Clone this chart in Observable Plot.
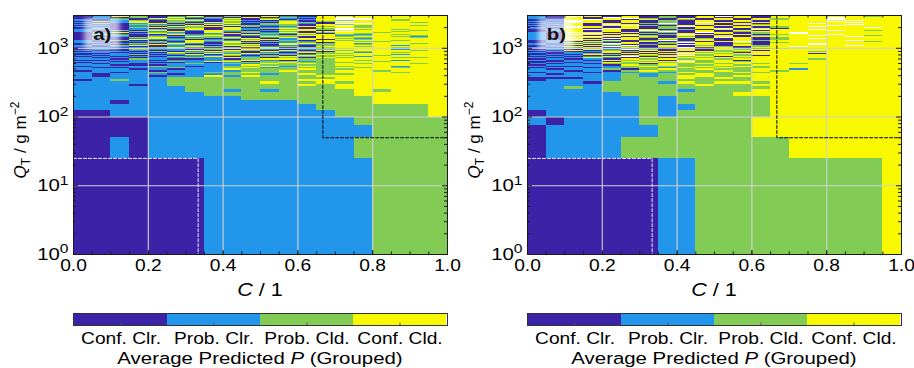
<!DOCTYPE html>
<html><head><meta charset="utf-8">
<script src="https://cdn.jsdelivr.net/npm/d3@7"></script>
<script src="https://cdn.jsdelivr.net/npm/@observablehq/plot@0.6"></script>
<style>
body{margin:0;background:#fff;}
#fig{position:relative;width:914px;height:368px;overflow:hidden;}
#fig>svg{position:absolute;}
</style></head><body><div id="fig"></div>
<script>
// ---------- data ----------
const categories = ["Conf. Clr.", "Prob. Clr.", "Prob. Cld.", "Conf. Cld."];
const categoryColors = ["#3c22a7", "#2196ea", "#82cc56", "#f8f800"];
const cBinWidth = 0.05;      // cloud-fraction bin width
const qBinWidth = 25;        // Q_T bin width, g m^-2
const qMin = 1, qMax = 3000;
const xTicks = [0, 0.2, 0.4, 0.6, 0.8, 1.0];
const yTicks = [1, 10, 100, 1000];
const clearBox = {c: 1/3, q: 25};
const cloudBox = {c: 2/3, q: 50};
// each string = one Q_T bin (from bottom), one char per C bin: 0..3 = category index, "." = no data
const panelARows = [
"00000001111111112222","00101111111111122222","00001111111111112222","00001111111111122222",
"00111111111111222223","11111111111112222223","11011111111122223333","11111111122222223333",
"11111112222222233333","11111122121222232333","11111122222222333333","11101222222232333333",
"11111222223223233333","01211222222233333333","11111222222222333333","10110113132223333333",
"10111011221232233333","11012112232222333233","01110111122322332333","11101011322232233333",
"10011211231222323233","01112101223132233133","11000111132222333333","10101121213232323323",
"01110010122322233333","11011213302212332333","00110111231022323133","11021001023322333333",
"10101121320203233223","01010213012322313333","10101011202032232333","01120130310213333133",
"10011012023202332323","00101203132102233333","11010321201032313233","01102013203120323333",
"10010130320303233323","01021102031012333133","00101231012302323333","10130201303121233233",
"01012310203022333233","10100132031203323333","02101203102133233323","10230120320102333133",
"01013201230312323333","10101032013203233233","00120310201332313323","11002130320120333333",
"01210203013203233233","10012031302113322333","01101320203032333313","10200132130203233233",
"01031201023130323333","10120302301202333323","02013120230133213333","10100230123022333233",
"01023012301303323323","10310201032120333333","00102132103203233213","11020310230130323333",
"01201023012233123323","10013201320302333333","02100312031023213233","10231030123203333323",
"01013201302130323333","10120032103203.33233","01302103021302332333","10010231230013233323",
"02103012301320323333","10021303120203.33233","01130201032102323333","10203013201330333323",
"00120321023103233333","11012030310232.23233","01230102103203323333","10102313020130333323",
"02010230312302.33333","10301201023013233233","01023120301203323333","10120301230230.33323",
"01302012103103233333","10010323020132323333","02103100231203..3233","10230213010322333333",
"01012030321203.23323","11201302103032333333","00130210230310..3233","10021203102203233333",
"01302130320130.33323","10120302013202333333","02013021302310..3333","10300213020132323233",
"01021302103203.33333","10130203210320333323","01203012302103..3333","10012301032330333233",
"02130210201302.33333","10201032130203333323","01032103023110..3333","10120230310203233233",
"01301203021303.33333","10023012302120..3323","02130201031302333333","10201320203013..3233",
"01012031320201.33333","10320103021332333323","01103201302103..3333","10021310230320.33233",
"02130023102103333333","10302130210230..3323","01020312030213.33333","10130201302302333233",
"02301023012103..3333","10012301320230.33323","01320130203103333333","10103201032302..3233",
"02010321301230.33333","10230102030123333323","01302031200130.33333","10120302103201233333"
];
const panelBRows = [
"00000001122222222223","01111222222222333333","01111112222233333333","10111122222233333333",
"01111121222223333333","11111121122223333333","11111121222223333333","11111121222223333333",
"11111222222333333333","11112222122233333333","11212222222223333333","11112222232233333333",
"11102221323323333333","01111222222233333333","00011222323233333333","11111212332333333333",
"10111212232233333333","01101121322323333333","11010232223232333333","10112023232233133333",
"01101221323223333333","10011232232323333333","01110323223233333333","10102203232323233333",
"01013232323333333333","00110323.23233333333","10103230323033333333","01010323232333323333",
"10131030323233333333","01013.03230333333333","10100323.23203333333","01032030323233333333",
"10103230302333333333","00120303.32333303333","10103030323033333333","01013203032233323333",
"10302030302303333333","01031.20303233333333","10103032.30323333333","00313020303202333333",
"10130302.03033333333","0130.203032023.33333","10213030303.02333233","01031.03020323333.33",
"10303020.303033.3333","0013020303.203333323","1013.3020302033.3333","01310302.30302333333",
"1023030.3030230.3333","01031030203.03333323","1013.2030302033.3333","0130302.030323333.33",
"10.30302030302333333","013030.20303033.3323","1030.3030203023.3333","0130302.03030333.333",
"10.3032030.302333333","01303020.3023033.323","103.3030203033333.33","0130.302030.20333333",
"10303.203030233.3323","013030.3020303333.33","10.30302.3030233.333","0130302030.303333323",
"103.3020303023.33333","01303.20303033333.33","10.303020.3023.33333","0130302.030303333323",
"1030.30203030.333.33","0130302.030233333333","10.30302030.3033.333","013030.203030333.323",
"1030.302030203333333","013.30302030.33.3333","10303020.30303333.33","01.30302030323.33323",
"1030.30203.030333333","0130302.0303033.3333","10.303020303023333.3","0130.3020303033.3323",
"103030.20303033333.3","01.30302.303023.3333","1030302030.303333333","013.30203030233.3.33",
"10303.2030303333.333","0130302.0303023.3333","10.3030203030333.323","0130.302030323333.33",
"103030.2030303.33333","01.3030203.3023333.3","1030302.0303033.3333","013.303020303333.323",
"10303.203030233.3333","01.303020.3033333.33","1030302030.30333.333","0130.30203030233.323",
"10.3030203030333.333","013030.2030303333.33","1030.302.303023.3333","01.30302030303333.33",
"10303.20303023.33323","0130302.0303033333.3","10.30302030.3033.333","013.303020303233.333",
"1030302.03030333.323","01.3030203.3033333.3","10303.2030303233.333","0130.3020303033.3333",
"10.303020.303033.323","013030.203030233.333","1030.30203030333.333","01.30302030.3033.333",
"10303.20303023333.33","0130302.03030333.333","10.3030203.303333323","013.30302030323.3333",
"1030302.030303333.33","01.3030.20303033.333","10303020.3030233.333","1030302030.303303333"
];

// ---------- build ----------
const FONT = '"Liberation Sans", Arial, sans-serif';
const SX = 1.2; // horizontal stretch of the lettering
function cells(rows) {
  const out = [];
  rows.forEach((row, k) => {
    [...row].forEach((ch, i) => {
      if (ch === ".") return;
      out.push({c1: i * cBinWidth, c2: (i + 1) * cBinWidth,
        q1: Math.max(qMin, k * qBinWidth), q2: Math.min(qMax, (k + 1) * qBinWidth),
        cat: categories[+ch]});
    });
  });
  return out;
}
const minorC = d3.range(0, 21).map(i => i * cBinWidth);
const majorQ = yTicks;
const minorQ = [];
for (const d of [1, 10, 100, 1000]) for (let m = 2; m <= 9; m++) if (m * d <= qMax) minorQ.push(m * d);

function stretch(svg) {
  d3.select(svg).selectAll("text").each(function () {
    if (this.getAttribute("data-keep")) return;
    const x = +this.getAttribute("x") || 0, y = +this.getAttribute("y") || 0;
    const tr = this.getAttribute("transform") || "";
    this.setAttribute("transform", `${tr} translate(${x},${y}) scale(${SX},1) translate(${-x},${-y})`);
  });
}

function panel(rows, label, ml, mr, left) {
  const W = 457, H = 300, mt = 15, mb = 46;
  const pw = W - ml - mr, ph = H - mt - mb;
  const ink = "#1a1a1a";
  const svg = Plot.plot({
    width: W, height: H, marginLeft: ml, marginRight: mr, marginTop: mt, marginBottom: mb,
    style: {fontFamily: FONT, fontSize: "16px", color: "#000", background: "transparent", overflow: "visible"},
    x: {domain: [0, 1]},
    y: {type: "log", domain: [qMin, qMax]},
    color: {domain: categories, range: categoryColors},
    marks: [
      Plot.rect(cells(rows), {x1: "c1", x2: "c2", y1: "q1", y2: "q2", fill: "cat", shapeRendering: "crispEdges", clip: true}),
      Plot.ruleX([0.2, 0.4, 0.6, 0.8], {stroke: "#d2d2d2", strokeWidth: 1.1}),
      Plot.ruleY([10, 100, 1000], {stroke: "#d2d2d2", strokeWidth: 1.1}),
      Plot.line([{c: 0, q: clearBox.q}, {c: clearBox.c, q: clearBox.q}, {c: clearBox.c, q: qMin}],
        {x: "c", y: "q", stroke: "#f2f0ff", strokeWidth: 1, strokeDasharray: "3,2"}),
      Plot.line([{c: cloudBox.c, q: qMax}, {c: cloudBox.c, q: cloudBox.q}, {c: 1, q: cloudBox.q}],
        {x: "c", y: "q", stroke: "#000", strokeWidth: 1, strokeDasharray: "3,2"}),
      Plot.rect([label], {x1: 0.03, x2: 0.125, y1: 950, y2: 2700, fill: "#fff", fillOpacity: 0.65, imageFilter: "blur(2.5px)"}),
      Plot.text([label], {x: 0.077, y: 1600, text: d => d, fontWeight: "bold", fontSize: 17, fill: "#111"}),
      Plot.frame({stroke: ink}),
      // inward ticks
      Plot.tickX(minorC, {x: d => d, stroke: ink, insetTop: ph - 2.5}),
      Plot.tickX(minorC, {x: d => d, stroke: ink, insetBottom: ph - 2.5}),
      Plot.tickX(xTicks, {x: d => d, stroke: ink, insetTop: ph - 4}),
      Plot.tickX(xTicks, {x: d => d, stroke: ink, insetBottom: ph - 4}),
      Plot.tickY(minorQ, {y: d => d, stroke: ink, insetRight: pw - 3}),
      Plot.tickY(minorQ, {y: d => d, stroke: ink, insetLeft: pw - 3}),
      Plot.tickY(majorQ, {y: d => d, stroke: ink, insetRight: pw - 5}),
      Plot.tickY(majorQ, {y: d => d, stroke: ink, insetLeft: pw - 5}),
      Plot.axisX({ticks: xTicks, tickFormat: d3.format(".1f"), tickSize: 0, tickPadding: 5, label: null, fontSize: 16}),
      Plot.axisY({ticks: yTicks, tickFormat: d => "10^" + Math.round(Math.log10(d)), tickSize: 0, tickPadding: 5, label: null, fontSize: 17})
    ]
  });
  const s = d3.select(svg);
  s.selectAll('g[aria-label="y-axis tick label"] text').each(function () {
    const t = d3.select(this); const [b, e] = t.text().split("^");
    t.text(b); t.append("tspan").attr("dy", "-0.5em").attr("font-size", "13px").text(e);
  });
  const xl = s.append("text").attr("x", ml + pw / 2).attr("y", 296).attr("text-anchor", "middle")
    .attr("font-size", 18).attr("font-family", FONT).attr("fill", "#000");
  xl.append("tspan").attr("font-style", "italic").text("C");
  xl.append("tspan").text(" / 1");
  stretch(svg);
  const yl = s.append("text").attr("data-keep", 1).attr("transform", `translate(${ml - 47},140) rotate(-90)`)
    .attr("text-anchor", "middle").attr("font-size", 17).attr("font-family", FONT).attr("fill", "#000");
  yl.append("tspan").attr("font-style", "italic").text("Q");
  yl.append("tspan").attr("font-size", 12).attr("dy", 4).text("T");
  yl.append("tspan").attr("dy", -4).text(" / g m");
  yl.append("tspan").attr("font-size", 12).attr("dy", -7).text("\u22122");
  svg.style.left = left + "px"; svg.style.top = "0px";
  return svg;
}

function colorbar(ml, mr, left) {
  const W = 457, H = 63;
  const svg = Plot.plot({
    width: W, height: H, marginLeft: ml, marginRight: mr, marginTop: 8, marginBottom: 43,
    style: {fontFamily: FONT, fontSize: "16px", color: "#000", background: "transparent", overflow: "visible"},
    x: {type: "band", domain: categories, padding: 0, axis: null},
    color: {domain: categories, range: categoryColors},
    marks: [
      Plot.cell(categories, {x: d => d, fill: d => d}),
      Plot.tickX(categories, {x: d => d, stroke: "#555", insetTop: 9.5}),
      Plot.frame({stroke: "#333"}),
      Plot.text(categories, {x: d => d, text: d => d, frameAnchor: "bottom", lineAnchor: "top", dy: 7, fontSize: 16, fill: "#000"})
    ]
  });
  const s = d3.select(svg);
  const t = s.append("text").attr("x", ml + (W - ml - mr) / 2).attr("y", 59).attr("text-anchor", "middle")
    .attr("font-size", 17).attr("font-family", FONT).attr("fill", "#000");
  t.append("tspan").text("Average Predicted ");
  t.append("tspan").attr("font-style", "italic").text("P");
  t.append("tspan").text(" (Grouped)");
  stretch(svg);
  svg.style.left = left + "px"; svg.style.top = "305px";
  return svg;
}

const fig = document.getElementById("fig");
fig.append(panel(panelARows, "a)", 73, 10, 0));
fig.append(panel(panelBRows, "b)", 70, 13, 457));
fig.append(colorbar(73, 10, 0));
fig.append(colorbar(70, 13, 457));
</script></body></html>
